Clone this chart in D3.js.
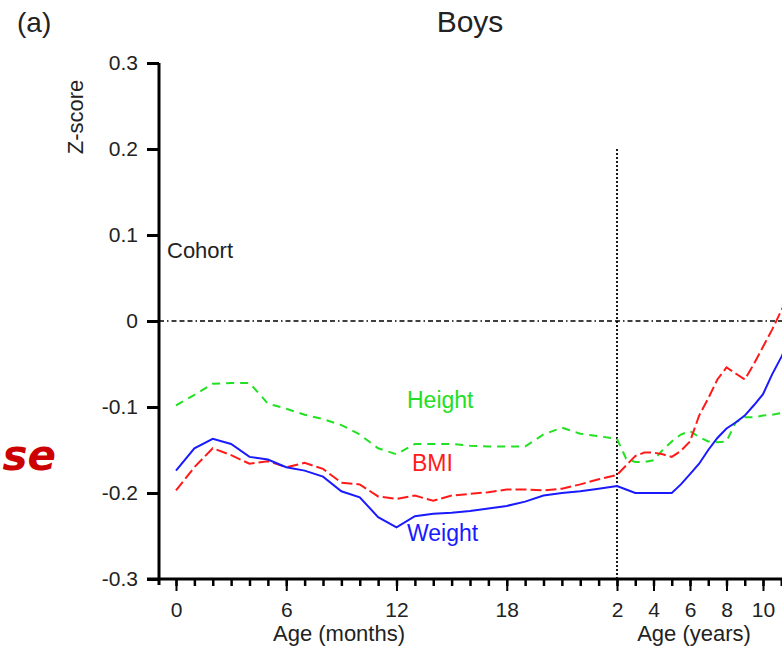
<!DOCTYPE html>
<html>
<head>
<meta charset="utf-8">
<script src="https://cdn.jsdelivr.net/npm/d3@7"></script>
<style>
body { margin: 0; background: #fff; }
text { font-family: "Liberation Sans", Arial, sans-serif; }
</style>
</head>
<body>
<div id="chart"></div>
<script>
var width = 782, height = 649

// ages 0-24 months
var monthAges = [0,1,2,3,4,5,6,7,8,9,10,11,12,13,14,15,16,17,18,19,20,21,22,23,24]
var weightMonths = [-0.174,-0.148,-0.137,-0.143,-0.158,-0.161,-0.170,-0.174,-0.181,-0.198,-0.205,-0.228,-0.240,-0.227,-0.224,-0.223,-0.221,-0.218,-0.215,-0.210,-0.203,-0.200,-0.198,-0.195,-0.192]
var bmiMonths = [-0.197,-0.170,-0.148,-0.156,-0.166,-0.163,-0.170,-0.165,-0.172,-0.188,-0.190,-0.204,-0.207,-0.203,-0.209,-0.203,-0.201,-0.199,-0.196,-0.196,-0.197,-0.195,-0.190,-0.184,-0.179]
var heightMonths = [-0.098,-0.086,-0.073,-0.072,-0.072,-0.096,-0.102,-0.109,-0.114,-0.121,-0.132,-0.148,-0.155,-0.143,-0.143,-0.143,-0.145,-0.146,-0.146,-0.146,-0.132,-0.124,-0.131,-0.134,-0.137]

// ages 2-11.5 years
var yearAges = [2,2.5,3,3.5,4,4.5,5,5.5,6,6.5,7,7.5,8,8.5,9,9.5,10,10.5,11,11.5]
var weightYears = [-0.192,-0.196,-0.200,-0.200,-0.200,-0.200,-0.200,-0.190,-0.178,-0.166,-0.150,-0.136,-0.125,-0.118,-0.110,-0.098,-0.085,-0.062,-0.042,-0.020]
var bmiYears = [-0.179,-0.168,-0.157,-0.153,-0.153,-0.155,-0.158,-0.151,-0.140,-0.110,-0.090,-0.068,-0.054,-0.061,-0.068,-0.050,-0.030,-0.010,0.012,0.035]
var heightYears = [-0.137,-0.160,-0.164,-0.164,-0.162,-0.150,-0.140,-0.132,-0.128,-0.135,-0.140,-0.141,-0.140,-0.118,-0.112,-0.112,-0.110,-0.109,-0.107,-0.106]

var zTicks = [-0.3,-0.2,-0.1,0,0.1,0.2,0.3]
var monthTicks = d3.range(0, 24)
var monthLabels = [0,6,12,18]
var yearTicks = d3.range(2, 12)
var yearLabels = [2,4,6,8,10]

var svg = d3.select('#chart')
	.append("svg")
	.attr("width", width)
	.attr("height", height)

var y = d3.scaleLinear().domain([-0.3, 0.3]).range([579, 63])
var xm = d3.scaleLinear().domain([0, 24]).range([176, 617])
var xy = d3.scaleLinear().domain([2, 10]).range([617, 763])

// reference lines
svg.append("line")
	.attr("x1", 159).attr("x2", width)
	.attr("y1", y(0)).attr("y2", y(0))
	.attr("stroke", "#000").attr("stroke-width", 1.6)
	.attr("stroke-dasharray", "5,3,1.5,3,5,3,5,3")
svg.append("line")
	.attr("x1", xm(24)).attr("x2", xm(24))
	.attr("y1", y(0.2)).attr("y2", y(-0.3))
	.attr("stroke", "#000").attr("stroke-width", 1.8)
	.attr("stroke-dasharray", "2,2")

// y axis
var yAxis = svg.append("g")
	.attr("transform", "translate(159,0)")
	.call(d3.axisLeft(y).tickValues(zTicks).tickSize(12).tickPadding(9)
		.tickFormat(function(d) { return d === 0 ? "0" : d.toFixed(1) }))
yAxis.select(".domain").remove()
yAxis.selectAll(".tick line").attr("stroke-width", 3)
yAxis.selectAll("text").attr("font-size", 21).attr("fill", "#222")

// x axes (minor + labelled ticks)
function xAxis(scale, ticks, labels) {
	var minor = svg.append("g")
		.attr("transform", "translate(0," + y(-0.3) + ")")
		.call(d3.axisBottom(scale).tickValues(ticks).tickSize(7).tickFormat(""))
	minor.select(".domain").remove()
	minor.selectAll(".tick line").attr("stroke-width", 2.5)
	var major = svg.append("g")
		.attr("transform", "translate(0," + y(-0.3) + ")")
		.call(d3.axisBottom(scale).tickValues(labels).tickSize(12).tickPadding(11))
	major.select(".domain").remove()
	major.selectAll(".tick line").attr("stroke-width", 2)
	major.selectAll("text").attr("font-size", 21).attr("fill", "#222")
}
xAxis(xm, monthTicks, monthLabels)
xAxis(xy, yearTicks, yearLabels)

svg.append("line")
	.attr("x1", 159).attr("x2", 159)
	.attr("y1", y(0.3)).attr("y2", y(-0.3) + 6)
	.attr("stroke", "#000").attr("stroke-width", 3)
svg.append("line")
	.attr("x1", 147).attr("x2", width)
	.attr("y1", y(-0.3)).attr("y2", y(-0.3))
	.attr("stroke", "#000").attr("stroke-width", 3)

// series
function points(mv, yv) {
	var p = monthAges.map(function(a, i) { return [xm(a), y(mv[i])] })
	return p.concat(yearAges.map(function(a, i) { return [xy(a), y(yv[i])] }).slice(1))
}
var line = d3.line()

svg.append("path").attr("d", line(points(heightMonths, heightYears)))
	.attr("fill", "none").attr("stroke", "#22e022").attr("stroke-width", 2)
	.attr("stroke-dasharray", "8,6")
svg.append("path").attr("d", line(points(bmiMonths, bmiYears)))
	.attr("fill", "none").attr("stroke", "#ff1a1a").attr("stroke-width", 2)
	.attr("stroke-dasharray", "11,4")
svg.append("path").attr("d", line(points(weightMonths, weightYears)))
	.attr("fill", "none").attr("stroke", "#1a1aff").attr("stroke-width", 2)

// labels
svg.append("text").attr("x", 167).attr("y", 258).attr("font-size", 22).attr("fill", "#222").text("Cohort")
svg.append("text").attr("x", 407).attr("y", 408).attr("font-size", 23).attr("fill", "#22e022").text("Height")
svg.append("text").attr("x", 412).attr("y", 471).attr("font-size", 23).attr("fill", "#ff1a1a").text("BMI")
svg.append("text").attr("x", 407).attr("y", 541).attr("font-size", 23).attr("fill", "#1a1aff").text("Weight")

svg.append("text").attr("x", 470).attr("y", 32).attr("text-anchor", "middle")
	.attr("font-size", 30).attr("fill", "#222").text("Boys")
svg.append("text").attr("x", 17).attr("y", 32).attr("font-size", 28).attr("fill", "#222").text("(a)")
svg.append("text").attr("transform", "translate(83,117) rotate(-90)").attr("text-anchor", "middle")
	.attr("font-size", 22).attr("fill", "#222").text("Z-score")
svg.append("text").attr("x", 339).attr("y", 641).attr("text-anchor", "middle")
	.attr("font-size", 22).attr("fill", "#222").text("Age (months)")
svg.append("text").attr("x", 694).attr("y", 641).attr("text-anchor", "middle")
	.attr("font-size", 22).attr("fill", "#222").text("Age (years)")

svg.append("text").attr("x", 56).attr("y", 470).attr("text-anchor", "end")
	.attr("font-size", 42).attr("font-weight", "bold").attr("font-style", "italic")
	.style("font-family", "'Comic Sans MS', 'DejaVu Sans', sans-serif")
	.attr("fill", "#cc0000").text("ase")
</script>
</body>
</html>
